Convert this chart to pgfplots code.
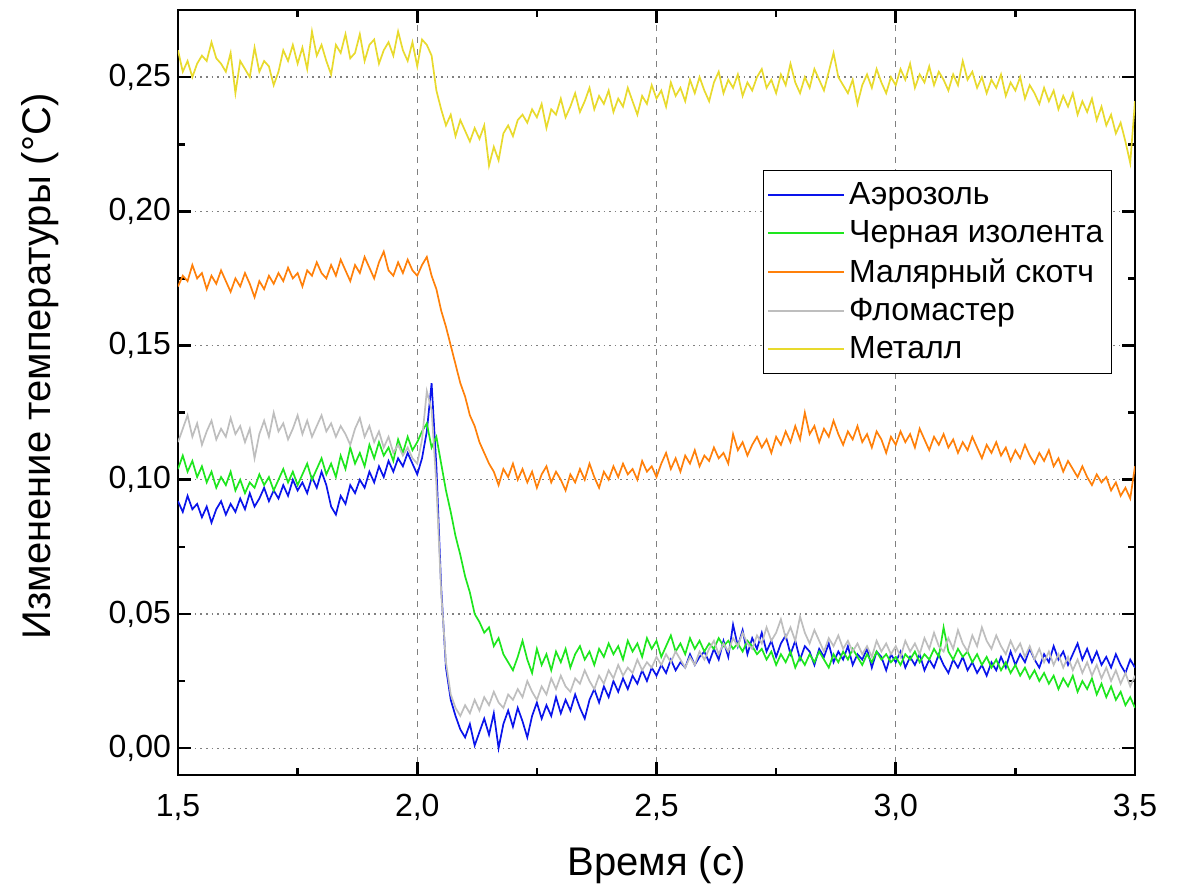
\documentclass[border=0pt]{standalone}
\usepackage{fontspec}
\setmainfont{Liberation Sans}
\usepackage{pgfplots}
\pgfplotsset{compat=1.18}
\usepackage{pgfplotstable}
\definecolor{cblue}{RGB}{10,20,235}
\definecolor{cgreen}{RGB}{30,230,30}
\definecolor{corange}{RGB}{255,128,10}
\definecolor{cgray}{RGB}{190,190,190}
\definecolor{cyellow}{RGB}{232,218,45}
\pgfplotsset{
  long legend/.style={legend image code/.code={\path (0pt,0pt) -- (38pt,0pt);\draw[##1] (0pt,0pt) -- (35.5pt,0pt);}},
  short legend/.style={legend image code/.code={\path (0pt,0pt) -- (38pt,0pt);\draw[##1] (0pt,0pt) -- (26.5pt,0pt);}},
}

\pgfplotstableread{
x aer tape mask marker metal
1.50 0.092 0.104 0.172 0.114 0.260
1.51 0.088 0.109 0.176 0.119 0.252
1.52 0.094 0.103 0.174 0.124 0.256
1.53 0.089 0.107 0.180 0.116 0.250
1.54 0.091 0.101 0.175 0.121 0.255
1.55 0.086 0.105 0.177 0.113 0.258
1.56 0.090 0.099 0.171 0.118 0.256
1.57 0.084 0.103 0.176 0.122 0.263
1.58 0.089 0.097 0.173 0.115 0.257
1.59 0.092 0.101 0.178 0.119 0.255
1.60 0.087 0.098 0.174 0.116 0.252
1.61 0.091 0.103 0.170 0.123 0.259
1.62 0.088 0.096 0.175 0.117 0.244
1.63 0.093 0.100 0.172 0.120 0.256
1.64 0.089 0.095 0.177 0.114 0.253
1.65 0.095 0.099 0.173 0.119 0.250
1.66 0.090 0.097 0.168 0.108 0.261
1.67 0.093 0.102 0.174 0.117 0.252
1.68 0.097 0.098 0.171 0.122 0.256
1.69 0.092 0.101 0.176 0.116 0.254
1.70 0.096 0.096 0.173 0.125 0.247
1.71 0.093 0.100 0.177 0.118 0.252
1.72 0.098 0.104 0.174 0.121 0.260
1.73 0.094 0.099 0.179 0.115 0.256
1.74 0.100 0.103 0.175 0.119 0.262
1.75 0.096 0.098 0.177 0.124 0.255
1.76 0.099 0.102 0.172 0.117 0.261
1.77 0.095 0.106 0.178 0.122 0.253
1.78 0.101 0.100 0.176 0.116 0.267
1.79 0.097 0.104 0.181 0.120 0.258
1.80 0.103 0.108 0.177 0.124 0.262
1.81 0.098 0.102 0.175 0.118 0.256
1.82 0.090 0.106 0.180 0.121 0.251
1.83 0.087 0.101 0.176 0.116 0.262
1.84 0.094 0.109 0.182 0.120 0.259
1.85 0.091 0.104 0.178 0.117 0.266
1.86 0.098 0.112 0.174 0.113 0.257
1.87 0.095 0.106 0.180 0.119 0.259
1.88 0.100 0.110 0.177 0.123 0.266
1.89 0.097 0.105 0.183 0.116 0.256
1.90 0.103 0.113 0.179 0.120 0.262
1.91 0.099 0.108 0.175 0.114 0.264
1.92 0.105 0.114 0.181 0.118 0.255
1.93 0.101 0.109 0.185 0.112 0.260
1.94 0.107 0.112 0.178 0.116 0.263
1.95 0.103 0.107 0.176 0.110 0.258
1.96 0.108 0.115 0.181 0.113 0.267
1.97 0.105 0.110 0.177 0.109 0.260
1.98 0.110 0.116 0.182 0.112 0.256
1.99 0.106 0.111 0.178 0.108 0.263
2.00 0.102 0.114 0.176 0.106 0.254
2.01 0.108 0.118 0.180 0.115 0.264
2.02 0.118 0.121 0.183 0.133 0.262
2.03 0.136 0.112 0.176 0.126 0.258
2.04 0.105 0.116 0.171 0.098 0.245
2.05 0.060 0.106 0.163 0.058 0.238
2.06 0.030 0.096 0.157 0.032 0.232
2.07 0.018 0.088 0.150 0.020 0.236
2.08 0.012 0.079 0.143 0.015 0.228
2.09 0.007 0.072 0.136 0.012 0.234
2.10 0.004 0.064 0.131 0.016 0.230
2.11 0.009 0.058 0.124 0.013 0.226
2.12 0.001 0.050 0.120 0.018 0.231
2.13 0.006 0.047 0.114 0.014 0.227
2.14 0.011 0.043 0.110 0.019 0.232
2.15 0.005 0.045 0.106 0.016 0.217
2.16 0.013 0.038 0.103 0.021 0.224
2.17 0.000 0.041 0.098 0.017 0.219
2.18 0.009 0.035 0.104 0.015 0.229
2.19 0.014 0.032 0.101 0.020 0.232
2.20 0.008 0.029 0.106 0.018 0.228
2.21 0.015 0.034 0.100 0.022 0.234
2.22 0.010 0.040 0.104 0.019 0.236
2.23 0.004 0.033 0.099 0.025 0.233
2.24 0.012 0.028 0.103 0.021 0.238
2.25 0.017 0.037 0.097 0.018 0.235
2.26 0.011 0.031 0.102 0.023 0.240
2.27 0.016 0.035 0.105 0.020 0.231
2.28 0.012 0.029 0.099 0.026 0.238
2.29 0.019 0.036 0.103 0.022 0.236
2.30 0.013 0.032 0.100 0.027 0.242
2.31 0.018 0.037 0.096 0.023 0.235
2.32 0.014 0.030 0.102 0.021 0.239
2.33 0.020 0.035 0.099 0.026 0.244
2.34 0.015 0.038 0.104 0.024 0.237
2.35 0.011 0.033 0.100 0.029 0.241
2.36 0.018 0.036 0.106 0.025 0.246
2.37 0.022 0.031 0.101 0.022 0.238
2.38 0.017 0.037 0.097 0.027 0.243
2.39 0.023 0.034 0.103 0.024 0.240
2.40 0.019 0.039 0.100 0.029 0.245
2.41 0.025 0.035 0.105 0.026 0.237
2.42 0.021 0.038 0.101 0.031 0.242
2.43 0.026 0.033 0.106 0.027 0.239
2.44 0.022 0.040 0.102 0.030 0.246
2.45 0.027 0.036 0.104 0.028 0.241
2.46 0.024 0.039 0.100 0.033 0.236
2.47 0.029 0.034 0.107 0.029 0.243
2.48 0.025 0.041 0.103 0.032 0.240
2.49 0.030 0.037 0.105 0.030 0.247
2.50 0.027 0.040 0.101 0.034 0.242
2.51 0.031 0.034 0.106 0.031 0.245
2.52 0.028 0.038 0.110 0.035 0.239
2.53 0.033 0.042 0.104 0.032 0.248
2.54 0.029 0.036 0.108 0.036 0.243
2.55 0.032 0.039 0.103 0.033 0.246
2.56 0.030 0.035 0.109 0.030 0.241
2.57 0.035 0.041 0.106 0.034 0.249
2.58 0.031 0.037 0.111 0.031 0.244
2.59 0.034 0.040 0.105 0.036 0.250
2.60 0.036 0.036 0.109 0.033 0.245
2.61 0.032 0.039 0.107 0.037 0.241
2.62 0.037 0.037 0.112 0.040 0.248
2.63 0.033 0.041 0.108 0.035 0.252
2.64 0.040 0.038 0.110 0.039 0.244
2.65 0.034 0.040 0.106 0.036 0.249
2.66 0.046 0.037 0.117 0.041 0.246
2.67 0.038 0.039 0.111 0.038 0.251
2.68 0.044 0.036 0.114 0.043 0.243
2.69 0.035 0.040 0.109 0.039 0.248
2.70 0.041 0.038 0.113 0.037 0.245
2.71 0.037 0.035 0.116 0.042 0.250
2.72 0.043 0.037 0.112 0.039 0.253
2.73 0.036 0.033 0.115 0.045 0.246
2.74 0.040 0.036 0.110 0.040 0.249
2.75 0.034 0.031 0.116 0.043 0.244
2.76 0.039 0.035 0.113 0.048 0.251
2.77 0.042 0.032 0.118 0.041 0.247
2.78 0.035 0.036 0.114 0.045 0.255
2.79 0.040 0.030 0.120 0.040 0.248
2.80 0.033 0.034 0.115 0.049 0.244
2.81 0.038 0.031 0.125 0.043 0.250
2.82 0.036 0.035 0.117 0.039 0.246
2.83 0.031 0.032 0.120 0.044 0.253
2.84 0.037 0.036 0.114 0.040 0.249
2.85 0.034 0.033 0.119 0.036 0.245
2.86 0.039 0.030 0.116 0.041 0.252
2.87 0.032 0.035 0.122 0.038 0.259
2.88 0.036 0.032 0.117 0.042 0.250
2.89 0.033 0.036 0.113 0.037 0.247
2.90 0.038 0.033 0.118 0.040 0.244
2.91 0.031 0.037 0.115 0.036 0.249
2.92 0.035 0.034 0.120 0.039 0.240
2.93 0.033 0.031 0.114 0.035 0.247
2.94 0.037 0.035 0.117 0.038 0.251
2.95 0.030 0.032 0.112 0.034 0.246
2.96 0.036 0.036 0.118 0.040 0.253
2.97 0.034 0.033 0.115 0.036 0.248
2.98 0.029 0.035 0.110 0.039 0.244
2.99 0.035 0.032 0.116 0.035 0.250
3.00 0.032 0.034 0.113 0.038 0.247
3.01 0.036 0.031 0.118 0.034 0.253
3.02 0.030 0.035 0.114 0.040 0.249
3.03 0.034 0.033 0.117 0.036 0.255
3.04 0.031 0.036 0.112 0.039 0.246
3.05 0.035 0.032 0.119 0.035 0.251
3.06 0.029 0.035 0.115 0.041 0.248
3.07 0.033 0.033 0.111 0.037 0.254
3.08 0.030 0.037 0.116 0.043 0.247
3.09 0.035 0.034 0.113 0.038 0.252
3.10 0.031 0.045 0.117 0.036 0.249
3.11 0.028 0.036 0.112 0.041 0.245
3.12 0.033 0.033 0.115 0.037 0.251
3.13 0.030 0.037 0.110 0.044 0.247
3.14 0.034 0.034 0.114 0.039 0.256
3.15 0.029 0.036 0.111 0.036 0.249
3.16 0.032 0.032 0.116 0.042 0.252
3.17 0.028 0.035 0.112 0.038 0.246
3.18 0.031 0.031 0.108 0.045 0.250
3.19 0.027 0.034 0.113 0.040 0.244
3.20 0.032 0.030 0.110 0.037 0.249
3.21 0.029 0.033 0.114 0.042 0.246
3.22 0.034 0.029 0.109 0.038 0.251
3.23 0.030 0.032 0.112 0.035 0.243
3.24 0.036 0.028 0.107 0.040 0.248
3.25 0.031 0.031 0.111 0.036 0.245
3.26 0.035 0.027 0.108 0.039 0.250
3.27 0.032 0.030 0.113 0.034 0.242
3.28 0.037 0.026 0.109 0.038 0.247
3.29 0.033 0.029 0.106 0.033 0.244
3.30 0.030 0.025 0.110 0.037 0.240
3.31 0.035 0.028 0.107 0.032 0.246
3.32 0.032 0.024 0.111 0.036 0.241
3.33 0.038 0.027 0.105 0.031 0.245
3.34 0.033 0.022 0.108 0.035 0.238
3.35 0.036 0.026 0.103 0.030 0.243
3.36 0.031 0.023 0.107 0.034 0.239
3.37 0.035 0.027 0.104 0.029 0.244
3.38 0.039 0.021 0.101 0.033 0.236
3.39 0.033 0.025 0.105 0.028 0.241
3.40 0.037 0.022 0.101 0.032 0.237
3.41 0.032 0.026 0.098 0.027 0.242
3.42 0.036 0.020 0.102 0.031 0.234
3.43 0.031 0.024 0.099 0.026 0.239
3.44 0.034 0.019 0.101 0.030 0.232
3.45 0.030 0.023 0.096 0.025 0.236
3.46 0.035 0.018 0.099 0.029 0.229
3.47 0.031 0.021 0.094 0.024 0.233
3.48 0.028 0.016 0.097 0.028 0.226
3.49 0.033 0.019 0.093 0.023 0.218
3.50 0.030 0.015 0.105 0.027 0.241
}\data

\begin{document}
\begin{tikzpicture}
\useasboundingbox (-89pt,-56.5pt) rectangle (500pt,387.5pt);
\begin{axis}[
  at={(0,0)}, anchor=south west,
  scale only axis, width=478.5pt, height=382.5pt,
  xmin=1.5, xmax=3.5, ymin=-0.010, ymax=0.275,
  xtick={1.5,2.0,2.5,3.0,3.5},
  ytick={0,0.05,0.10,0.15,0.20,0.25},
  minor x tick num=1, minor y tick num=1,
  tick align=inside,
  major tick length=6.5pt, minor tick length=3.5pt,
  tick style={black, line width=1.3pt},
  axis line style={line width=1.4pt},
  grid=major,
  x grid style={gray, line width=0.6pt, dash pattern=on 3pt off 3pt},
  y grid style={gray, line width=0.6pt, dash pattern=on 0.8pt off 2pt},
  /pgf/number format/assume math mode=true,
  xticklabel style={yshift=-6pt, /pgf/number format/.cd, fixed, fixed zerofill, precision=1, use comma},
  yticklabel style={/pgf/number format/.cd, fixed, fixed zerofill, precision=2, use comma},
  tick label style={font=\fontsize{16}{18}\selectfont},
  label style={font=\fontsize{20}{24}\selectfont},
  xlabel={Время (с)},
  ylabel={Изменение температуры (°C)},
  xlabel style={at={(axis description cs:0.5,0)}, anchor=center, yshift=-45pt},
  ylabel style={at={(axis description cs:0,0.5)}, anchor=center, xshift=13pt, yshift=69pt},
  legend style={at={(axis description cs:0.611,0.791)}, anchor=north west,
    draw=black, line width=0.8pt, font=\fontsize{16}{18}\selectfont,
    inner xsep=2pt, inner ysep=4pt, row sep=2.5pt},
  legend cell align=left,
  long legend,
]
\addplot[cblue, line width=0.85pt] table[x=x, y=aer] {\data};
\addplot[cgreen, line width=0.85pt] table[x=x, y=tape] {\data};
\addplot[corange, line width=0.85pt] table[x=x, y=mask] {\data};
\addplot[cgray, line width=0.85pt] table[x=x, y=marker] {\data};
\addplot[cyellow, line width=0.85pt, short legend] table[x=x, y=metal] {\data};
\legend{Аэрозоль, Черная изолента, Малярный скотч, Фломастер, Металл}
\end{axis}
\end{tikzpicture}
\end{document}
